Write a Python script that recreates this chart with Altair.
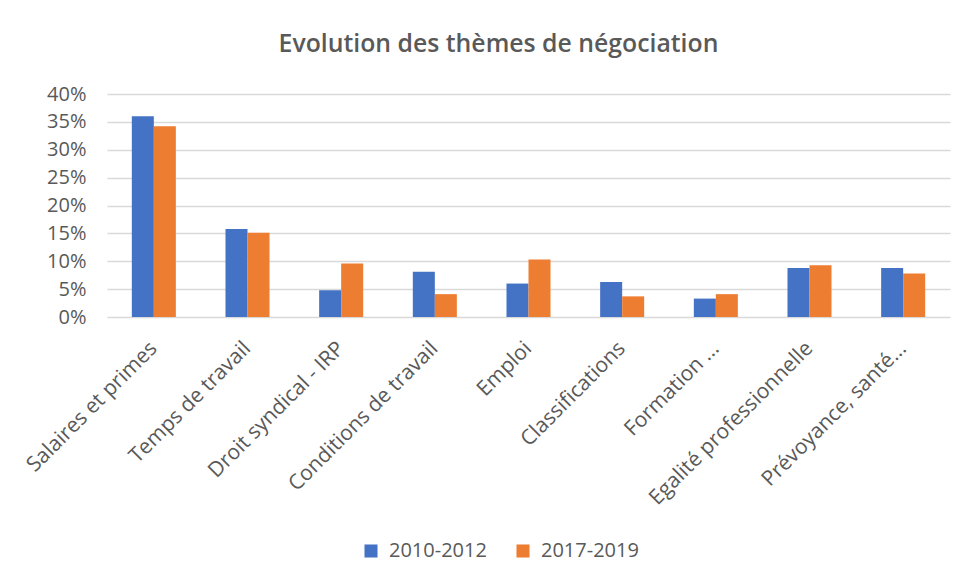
import altair as alt
import pandas as pd

categories = ["Salaires et primes", "Temps de travail", "Droit syndical - IRP",
              "Conditions de travail", "Emploi", "Classifications", "Formation ...",
              "Egalité professionnelle", "Prévoyance, santé..."]
series_names = ["2010-2012", "2017-2019"]
values_2010 = [0.360, 0.158, 0.048, 0.081, 0.060, 0.063, 0.033, 0.088, 0.088]
values_2017 = [0.342, 0.151, 0.096, 0.041, 0.103, 0.037, 0.041, 0.093, 0.078]
colors = ["#4472C4", "#ED7D31"]

rows = []
for c, a, b in zip(categories, values_2010, values_2017):
    rows.append({"cat": c, "serie": series_names[0], "val": a})
    rows.append({"cat": c, "serie": series_names[1], "val": b})
df = pd.DataFrame(rows)

FONT = "Open Sans"
TXT = "#595959"

chart = alt.Chart(df).mark_bar().encode(
    x=alt.X("cat:N", sort=categories, title=None,
            scale=alt.Scale(paddingInner=0.53, paddingOuter=0.265),
            axis=alt.Axis(labelAngle=-45, labelAlign="right", labelBaseline="middle",
                          labelFontSize=21, labelColor=TXT, labelFont=FONT,
                          ticks=False, domain=False, labelPadding=28, labelLimit=400)),
    xOffset=alt.XOffset("serie:N", sort=series_names),
    y=alt.Y("val:Q", title=None,
            scale=alt.Scale(domain=[0, 0.4], nice=False),
            axis=alt.Axis(format=".0%", values=[0, 0.05, 0.1, 0.15, 0.2, 0.25, 0.3, 0.35, 0.4],
                          labelFontSize=20, labelColor=TXT, labelFont=FONT,
                          ticks=False, domain=False, gridColor="#D9D9D9", gridWidth=1.3,
                          labelPadding=21)),
    color=alt.Color("serie:N", sort=series_names,
                    scale=alt.Scale(domain=series_names, range=colors),
                    legend=alt.Legend(title=None, orient="none", direction="horizontal",
                                      legendX=254, legendY=447, symbolType="square",
                                      symbolSize=170, labelFontSize=20, labelColor=TXT,
                                      labelFont=FONT, columnPadding=26, symbolStrokeWidth=0,
                                      labelOffset=8)),
).properties(
    width=843, height=223,
    title=alt.TitleParams("Evolution des thèmes de négociation", fontSize=24.8,
                          font=FONT, color=TXT, fontWeight=600, anchor="middle",
                          dx=-30, offset=27),
    autosize=alt.AutoSizeParams(type="none"),
    padding={"left": 99, "top": 86, "right": 10, "bottom": 261},
).configure_view(stroke=None)

chart.save("out.html", embed_options={"renderer": "svg", "actions": False})
